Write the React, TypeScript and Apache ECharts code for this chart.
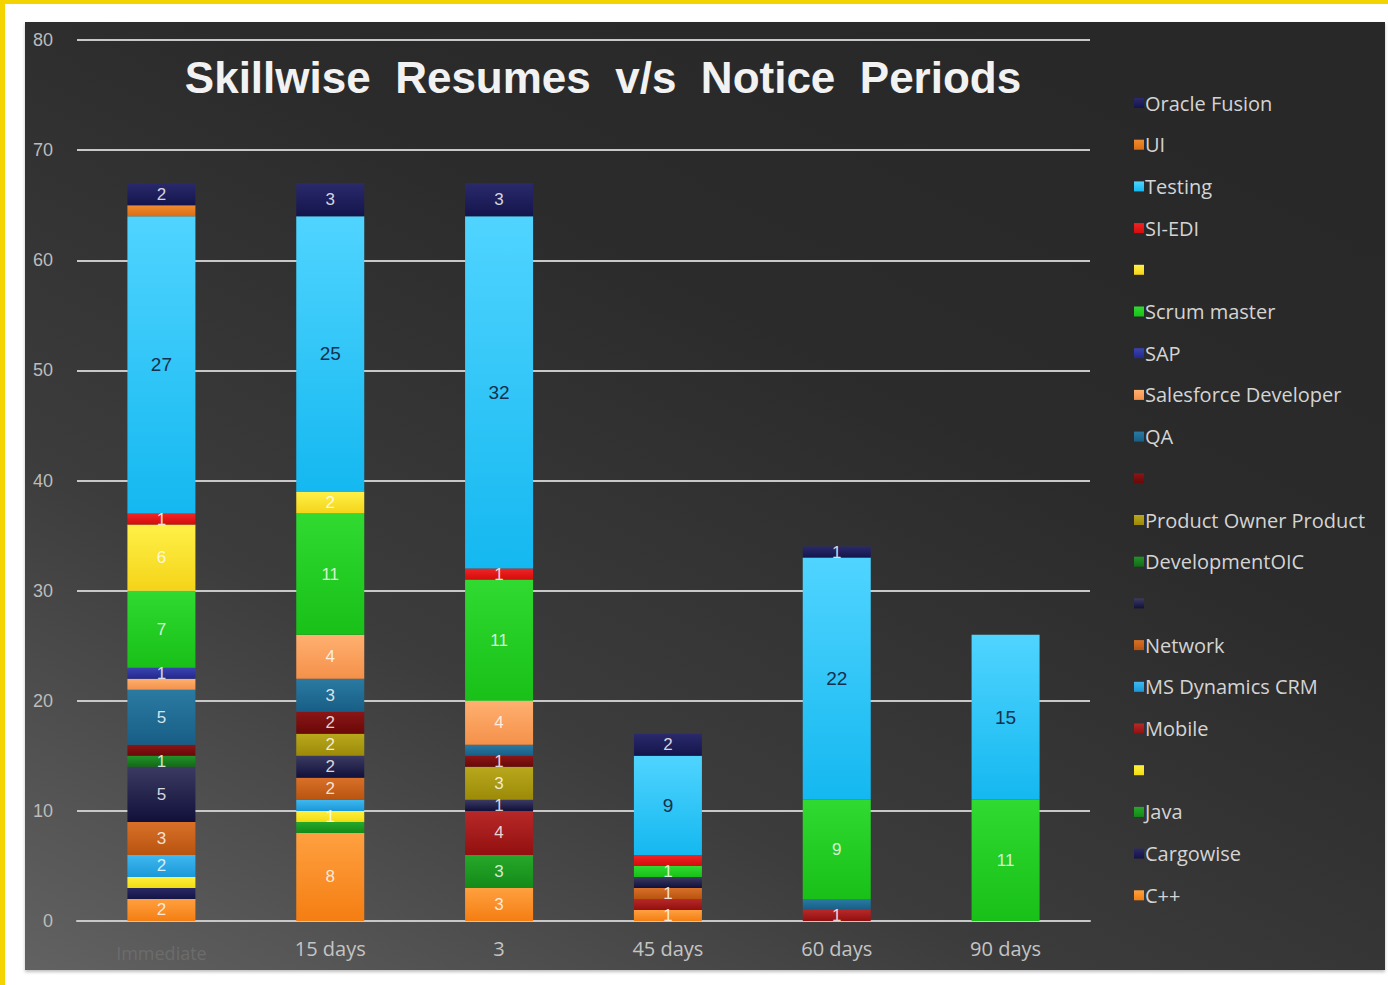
import React, { useEffect, useRef } from "react";
import * as echarts from "echarts";

const categories = ["Immediate", "15 days", "3", "45 days", "60 days", "90 days"];
const yTicks = [0, 10, 20, 30, 40, 50, 60, 70, 80];

// stack order: bottom -> top
const cpp = [2, 8, 3, 1, 0, 0];
const cargowise = [1, 0, 0, 0, 0, 0];
const java = [0, 1, 3, 0, 0, 0];
const unnamedYellowB = [1, 1, 0, 0, 0, 0];
const mobile = [0, 0, 4, 1, 1, 0];
const msDynamicsCrm = [2, 1, 0, 0, 0, 0];
const network = [3, 2, 0, 1, 0, 0];
const unnamedNavy = [5, 2, 1, 1, 0, 0];
const developmentOic = [1, 0, 0, 0, 0, 0];
const productOwner = [0, 2, 3, 0, 0, 0];
const unnamedDarkRed = [1, 2, 1, 0, 0, 0];
const qa = [5, 3, 1, 0, 1, 0];
const salesforce = [1, 4, 4, 0, 0, 0];
const sap = [1, 0, 0, 0, 0, 0];
const scrumMaster = [7, 11, 11, 1, 9, 11];
const unnamedYellowA = [6, 2, 0, 0, 0, 0];
const siEdi = [1, 0, 1, 1, 0, 0];
const testing = [27, 25, 32, 9, 22, 15];
const ui = [1, 0, 0, 0, 0, 0];
const oracleFusion = [2, 3, 3, 2, 1, 0];

const seriesNames = [
  "C++", "Cargowise", "Java", "Series 17", "Mobile", "MS Dynamics CRM", "Network", "Series 13",
  "DevelopmentOIC", "Product Owner Product", "Series 10", "QA", "Salesforce Developer", "SAP",
  "Scrum master", "Series 5", "SI-EDI", "Testing", "UI", "Oracle Fusion",
];
const seriesValues = [
  cpp, cargowise, java, unnamedYellowB, mobile, msDynamicsCrm, network, unnamedNavy,
  developmentOic, productOwner, unnamedDarkRed, qa, salesforce, sap,
  scrumMaster, unnamedYellowA, siEdi, testing, ui, oracleFusion,
];
const seriesColors = [
  ["#ffa040", "#f47e12"], ["#2a2a66", "#141446"], ["#26a82a", "#148a18"], ["#fff040", "#f2dc10"],
  ["#b82828", "#921010"], ["#40b8f0", "#1a98d8"], ["#d87028", "#b85410"], ["#3a3a62", "#10103a"],
  ["#22922a", "#126a16"], ["#b8a81c", "#9c8a08"], ["#8a1616", "#6a0808"], ["#2a7aa2", "#185e86"],
  ["#ffb070", "#f4914a"], ["#3a44b0", "#24288e"], ["#30da30", "#18c018"], ["#fff048", "#f4d418"],
  ["#f02424", "#d40c0c"], ["#50d4ff", "#14b8f0"], ["#f08a30", "#dc6e14"], ["#2a2a6c", "#14144c"],
];
const hiddenLegendNames = ["Series 17", "Series 13", "Series 10", "Series 5"];

export default function App() {
  const ref = useRef<HTMLDivElement>(null);

  useEffect(() => {
    if (!ref.current) return;
    const chart = echarts.init(ref.current, null, { renderer: "svg" });

    const series = seriesNames.map((name, i) => ({
      name,
      type: "bar",
      stack: "total",
      barWidth: 68,
      data: seriesValues[i].map((v) => (v === 0 ? "-" : v)),
      itemStyle: {
        color: new echarts.graphic.LinearGradient(0, 0, 0, 1, [
          { offset: 0, color: seriesColors[i][0] },
          { offset: 1, color: seriesColors[i][1] },
        ]),
      },
      labelLayout: { hideOverlap: true },
      label: {
        show: true,
        position: "inside",
        fontSize: name === "Testing" ? 19 : 17,
        fontFamily: "Liberation Sans",
        color: name === "Testing" ? "#15304e" : "rgba(255,255,255,0.82)",
        formatter: (p: any) => (p.value ? String(p.value) : ""),
      },
    }));

    chart.setOption({
      animation: false,
      backgroundColor: new echarts.graphic.LinearGradient(0, 1, 0.75, 0, [
        { offset: 0, color: "#626262" },
        { offset: 0.35, color: "#3c3c3c" },
        { offset: 0.7, color: "#2b2b2b" },
        { offset: 1, color: "#282828" },
      ]),
      graphic: [
        {
          type: "text",
          x: 578,
          y: 55,
          style: {
            text: "Skillwise\u00a0 Resumes\u00a0 v/s\u00a0 Notice\u00a0 Periods",
            fill: "#f2f2f2",
            font: "bold 44px 'Liberation Sans', Arial, sans-serif",
            textAlign: "center",
            textVerticalAlign: "middle",
          },
        },
      ],
      legend: {
        orient: "vertical",
        left: 1104,
        top: 66,
        icon: "rect",
        itemWidth: 10,
        itemHeight: 10,
        itemGap: 21.7,
        data: seriesNames.slice().reverse(),
        formatter: (n: string) => (hiddenLegendNames.includes(n) ? " " : n),
        textStyle: {
          color: "#d4d4d4",
          fontSize: 20,
          lineHeight: 20,
          height: 20,
          fontFamily: "Open Sans",
          padding: [0, 0, 0, -4],
        },
      },
      grid: { left: 52, right: 295, top: 18, bottom: 49 },
      xAxis: {
        type: "category",
        data: categories,
        axisTick: { show: false },
        axisLine: { show: true, lineStyle: { color: "#c8c8c8", width: 2 } },
        axisLabel: {
          interval: 0,
          color: "#c4c4c4",
          fontSize: 20,
          fontFamily: "Open Sans",
          margin: 17,
          formatter: (v: string, i: number) => (i === 0 ? `{faint|${v}}` : v),
          rich: {
            faint: { color: "#6c6c6c", fontSize: 18, padding: [6, 0, 0, 0], fontFamily: "Open Sans" },
          },
        },
      },
      yAxis: {
        type: "value",
        min: yTicks[0],
        max: yTicks[yTicks.length - 1],
        interval: 10,
        axisLine: { show: false },
        axisTick: { show: false },
        axisLabel: { color: "#bcbcbc", fontSize: 18, fontFamily: "Liberation Sans", margin: 24 },
        splitLine: { lineStyle: { color: "#c8c8c8", width: 2 } },
      },
      series,
    });

    return () => chart.dispose();
  }, []);

  return (
    <div style={{ position: "fixed", left: 0, top: 0, width: 1388, height: 985, background: "#ffffff", overflow: "hidden" }}>
      <div style={{ position: "absolute", left: 0, top: 0, width: 1388, height: 4, background: "#f3d400" }} />
      <div style={{ position: "absolute", left: 0, top: 0, width: 5, height: 985, background: "#f3d400" }} />
      <div
        ref={ref}
        style={{ position: "absolute", left: 25, top: 22, width: 1360, height: 948, boxShadow: "0 2px 3px rgba(0,0,0,0.25)" }}
      />
    </div>
  );
}
